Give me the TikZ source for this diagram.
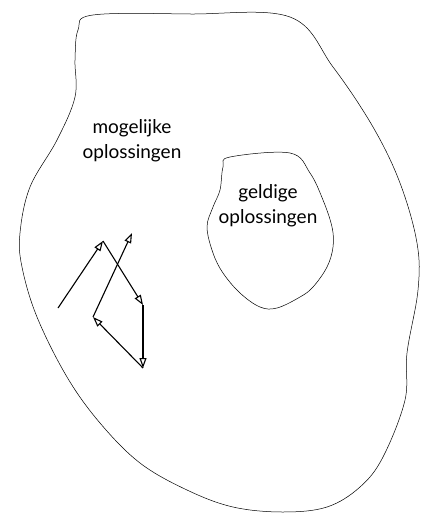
\documentclass[tikz,border=0pt]{standalone}
\usepackage{fontspec}
\setmainfont{Lato}
\usetikzlibrary{arrows.meta}
\tikzstyle{region}=[draw,line width=0.5pt]
\tikzstyle{label}=[align=center,font=\fontsize{19}{25}\selectfont,inner sep=0pt]
\tikzstyle{move}=[line width=1.1pt,-{Triangle[open,length=10pt,width=7pt]}]

\begin{document}
\begin{tikzpicture}[x=1pt,y=-1pt]
    \useasboundingbox (0,0) rectangle (426,513);
    % search space
    \draw[region] plot[smooth cycle,tension=0.6] coordinates {
        (78,30) (93,15) (190,14) (290,17) (333,67) (373,127) (400,183)
        (417,243) (418,290) (407,353) (405,400) (383,457) (360,487)
        (327,507) (283,512) (233,507) (187,490) (140,463) (100,423)
        (67,377) (37,317) (22,267) (20,233) (30,187) (57,140) (75,97) (75,60)};
    % feasible region
    \draw[region] plot[smooth cycle,tension=0.6] coordinates {
        (230,157) (290,153) (310,173) (323,200) (332,227) (333,247)
        (327,267) (313,287) (300,297) (277,308) (260,307) (240,293)
        (223,273) (213,253) (207,227) (213,207) (220,190) (223,167)};
    \node[label] (all) at (132,141) {mogelijke\\oplossingen};
    \node[label] (valid) at (268,206) {geldige\\oplossingen};

    \coordinate (p0) at (58,308);
    \coordinate (p1) at (103,241);
    \coordinate (p2) at (143,305);
    \coordinate (p3) at (143,368);
    \coordinate (p4) at (93,317);
    \coordinate (p5) at (132,233);
    \foreach \from/\to in {p0/p1,p1/p2,p2/p3,p3/p4,p4/p5}
    \draw[move] (\from) -- (\to);
\end{tikzpicture}
\end{document}
